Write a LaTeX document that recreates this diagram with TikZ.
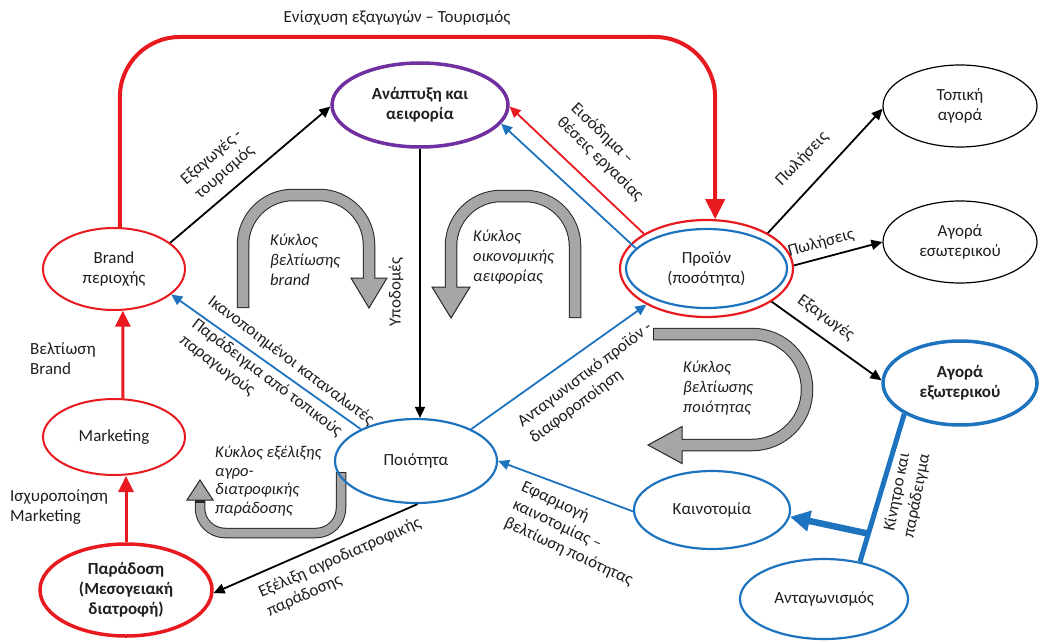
\documentclass[tikz,border=0pt]{standalone}
\usepackage{fontspec}
\setmainfont{Carlito}
\usetikzlibrary{shapes.geometric,arrows.meta}
\definecolor{cred}{HTML}{E8191F}
\definecolor{cblue}{HTML}{1E73BE}
\definecolor{cpurple}{HTML}{7030A0}
\definecolor{gfill}{HTML}{A6A6A6}
\definecolor{ctext}{HTML}{1F1F1F}
\begin{document}
\begin{tikzpicture}[x={(1pt,0pt)}, y={(0pt,-1pt)},
 base/.style={font=\fontsize{17pt}{20pt}\selectfont, text=ctext},
 el/.style={ellipse, draw, inner sep=0pt, align=center, base},
 bold/.style={font=\fontsize{17pt}{20pt}\selectfont\bfseries},
 lbl/.style={inner sep=0pt, align=center, base},
 ita/.style={inner sep=0pt, align=left, anchor=west, font=\fontsize{16.5pt}{20pt}\selectfont\itshape, text=ctext},
 thinarrow/.style={line width=1.8pt, -{Triangle[length=11pt,width=10pt]}},
 redarrow/.style={line width=3pt, color=cred, -{Triangle[length=16pt,width=15pt]}},
 gout/.style={line width=12.5pt, draw=black!85},
 gin/.style={line width=10.5pt, draw=gfill},
 ghead/.style={fill=gfill, draw=black!85, line width=1pt, line join=miter}]
\useasboundingbox (0,0) rectangle (1040,642);

% gray cycle arrows
\draw[gout, rounded corners=50pt] (243,308) -- (243,195) -- (369,195) -- (369,278);
\filldraw[ghead] (351,278) -- (387,278) -- (369,308) -- cycle;
\draw[gin, rounded corners=50pt] (243,307) -- (243,195) -- (369,195) -- (369,281);

\draw[gout, rounded corners=50pt] (575,318) -- (575,196) -- (451,196) -- (451,287);
\filldraw[ghead] (432,287) -- (470,287) -- (451,318) -- cycle;
\draw[gin, rounded corners=50pt] (575,317) -- (575,196) -- (451,196) -- (451,290);

\draw[gout, rounded corners=55pt] (653,334) -- (807,334) -- (807,445) -- (682,445);
\filldraw[ghead] (682,426.5) -- (682,463.5) -- (648,445) -- cycle;
\draw[gin, rounded corners=55pt] (654,334) -- (807,334) -- (807,445) -- (679,445);

\draw[gout, line width=10.5pt, rounded corners=25pt] (341,472) -- (341,533) -- (200,533) -- (200,500);
\filldraw[ghead] (187,500) -- (213,500) -- (200,480) -- cycle;
\draw[gin, line width=8.5pt, rounded corners=25pt] (341,473) -- (341,533) -- (200,533) -- (200,503);

% nodes
\node[el, draw=cpurple, line width=3.5pt, minimum width=176pt, minimum height=84pt, bold] (anapt) at (420,105) {Ανάπτυξη και\\αειφορία};
\node[el, draw=black, line width=1.2pt, minimum width=154pt, minimum height=82pt] (topiki) at (960,106) {Τοπική\\αγορά};
\node[el, draw=black, line width=1.2pt, minimum width=154pt, minimum height=82pt] (esot) at (960,242) {Αγορά\\εσωτερικού};
\node[el, draw=cred, line width=2.2pt, minimum width=173pt, minimum height=97pt] (prodR) at (706.5,268.5) {};
\node[el, draw=cblue, line width=2.2pt, minimum width=161pt, minimum height=79pt] (prodB) at (706.5,268.5) {Προϊόν\\(ποσότητα)};
\node[el, draw=cblue, line width=3.5pt, minimum width=154pt, minimum height=84pt, bold] (exot) at (960,383) {Αγορά\\εξωτερικού};
\node[el, draw=cred, line width=2pt, minimum width=142pt, minimum height=82pt] (brand) at (114,269) {Brand\\περιοχής};
\node[el, draw=cred, line width=2pt, minimum width=142pt, minimum height=76pt] (mark) at (114,437) {Marketing};
\node[el, draw=cred, line width=3.5pt, minimum width=172pt, minimum height=92pt, bold] (parad) at (126,590) {Παράδοση\\(Μεσογειακή\\διατροφή)};
\node[el, draw=cblue, line width=2.2pt, minimum width=162pt, minimum height=84pt] (poiot) at (416,461) {Ποιότητα};
\node[el, draw=cblue, line width=2.2pt, minimum width=156pt, minimum height=78pt] (kain) at (712,510) {Καινοτομία};
\node[el, draw=cblue, line width=2.2pt, minimum width=168pt, minimum height=80pt] (antag) at (824,599) {Ανταγωνισμός};

% connectors
\coordinate (topR) at (715,37);
\draw[line width=4pt, color=cred, rounded corners=60pt, -{Triangle[length=20pt,width=19pt]}] (brand.82) |- (topR) [rounded corners=78pt] -- (prodR.80);
\draw[thinarrow] (brand.25) -- (anapt.181);
\draw[thinarrow] (anapt.south) -- (anapt.south |- poiot.north);
\draw[thinarrow, color=cred] (prodR.151) -- (anapt.-1);
\draw[thinarrow, color=cblue] (prodB.164) -- (anapt.-13);
\draw[thinarrow] (prodR.30) -- (topiki.182);
\draw[thinarrow] (prodR.2) -- (esot.180);
\draw[thinarrow] (prodR.-27) -- (exot.178);
\draw[thinarrow, color=cblue] (poiot.150) -- (brand.-24);
\draw[thinarrow, color=cblue] (poiot.30) -- (prodR.211);
\draw[thinarrow, color=cblue] (kain.181) -- (poiot.east);
\draw[thinarrow] (poiot.-88) -- (parad.-2);
\draw[redarrow] (parad.north) -- (parad.north |- mark.south);
\draw[redarrow] (mark.77) -- (brand.-78);
\draw[line width=5pt, color=cblue] (antag.46) -- coordinate[pos=0.19] (j) (exot.209);
\draw[line width=6.5pt, color=cblue, -{Triangle[length=20pt,width=20pt]}] (j) -- (kain.-5);

% labels
\node[lbl] (ttl) at (397,18) {Ενίσχυση εξαγωγών – Τουρισμός};
\node[lbl, rotate=41] (l1) at (218,165) {Εξαγωγές -\\τουρισμός};
\node[lbl, rotate=90] (l2) at (396,292) {Υποδομές};
\node[lbl, rotate=-44, align=left] (l3) at (607,152) {Εισόδημα –\\θέσεις εργασίας};
\node[lbl, rotate=46] (l4) at (802,159) {Πωλήσεις};
\node[lbl, rotate=15] (l5) at (821,243) {Πωλήσεις};
\node[lbl, rotate=-36] (l6) at (826,318) {Εξαγωγές};
\node[lbl, rotate=-37] (l7) at (291,361) {Ικανοποιημένοι καταναλωτές};
\node[lbl, rotate=-37, align=left] (l8) at (261,386) {Παράδειγμα από τοπικούς\\παραγωγούς};
\node[lbl, rotate=37, align=left] (l9) at (591,383) {Ανταγωνιστικό προϊόν -\\διαφοροποίηση};
\node[lbl, rotate=-25, align=left] (l10) at (577,534) {Εφαρμογή\\καινοτομίας –\\βελτίωση ποιότητας};
\node[lbl, rotate=24, align=left] (l11) at (344,567) {Εξέλιξη αγροδιατροφικής\\παράδοσης};
\node[lbl, rotate=79] (l12) at (907,494) {Κίνητρο και\\παράδειγμα};
\node[lbl, anchor=west, align=left] (l13) at (30,359) {Βελτίωση\\Brand};
\node[lbl, anchor=west, align=left] (l14) at (10,507) {Ισχυροποίηση\\Marketing};
\node[ita] (c1) at (270,260) {Κύκλος\\βελτίωσης\\brand};
\node[ita] (c2) at (473,257) {Κύκλος\\οικονομικής\\αειφορίας};
\node[ita] (c3) at (683,388) {Κύκλος\\βελτίωσης\\ποιότητας};
\node[ita, font=\fontsize{16.5pt}{18.5pt}\selectfont\itshape] (c4) at (215,481) {Κύκλος εξέλιξης\\αγρο-\\διατροφικής\\παράδοσης};
\end{tikzpicture}
\end{document}
